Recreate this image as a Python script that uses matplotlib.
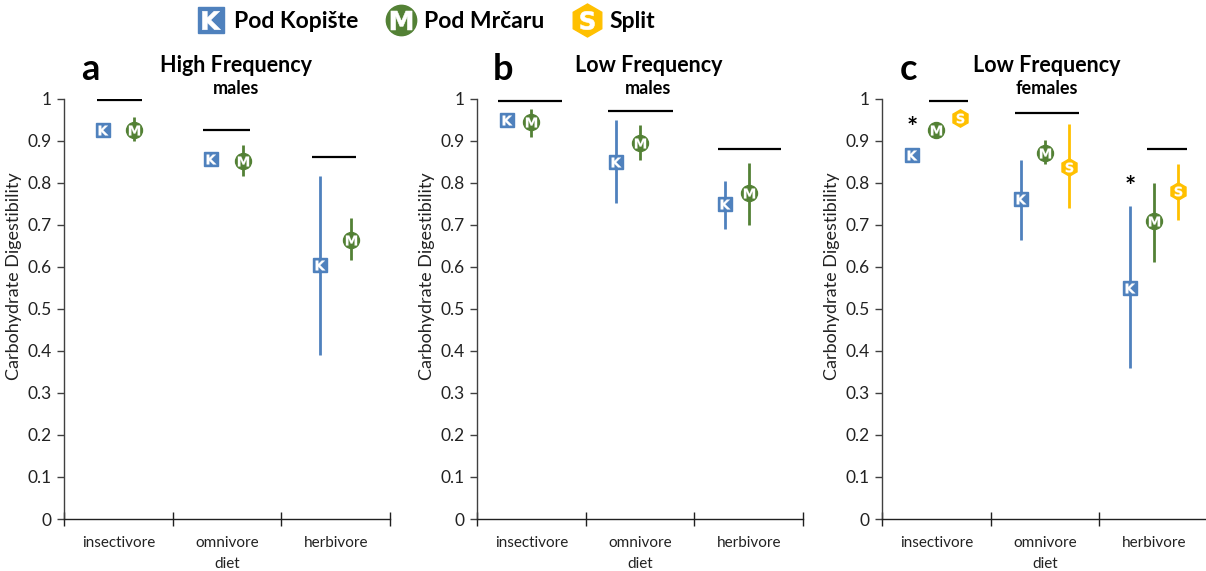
import numpy as np
import matplotlib
matplotlib.use('Agg')
import matplotlib.pyplot as plt
from matplotlib.lines import Line2D
from matplotlib.legend_handler import HandlerTuple

plt.rcParams['font.family'] = ['Lato', 'DejaVu Sans']

# данные
diets = ['insectivore', 'omnivore', 'herbivore']
x_pos = np.arange(3) + 0.5

# a: High Frequency, males
a_k_mean = [0.924, 0.856, 0.603]
a_k_lo = [0.919, 0.851, 0.390]
a_k_hi = [0.929, 0.861, 0.815]
a_m_mean = [0.925, 0.852, 0.664]
a_m_lo = [0.898, 0.816, 0.616]
a_m_hi = [0.956, 0.890, 0.716]
a_line_y = [0.997, 0.924, 0.862]

# b: Low Frequency, males
b_k_mean = [0.948, 0.848, 0.748]
b_k_lo = [0.943, 0.752, 0.690]
b_k_hi = [0.953, 0.950, 0.803]
b_m_mean = [0.944, 0.894, 0.775]
b_m_lo = [0.908, 0.854, 0.700]
b_m_hi = [0.975, 0.936, 0.847]
b_line_y = [0.995, 0.971, 0.881]

# c: Low Frequency, females
c_k_mean = [0.866, 0.761, 0.549]
c_k_lo = [0.861, 0.663, 0.359]
c_k_hi = [0.871, 0.854, 0.745]
c_m_mean = [0.926, 0.871, 0.708]
c_m_lo = [0.915, 0.845, 0.610]
c_m_hi = [0.940, 0.902, 0.800]
c_s_mean = [0.953, 0.838, 0.780]
c_s_lo = [0.948, 0.739, 0.710]
c_s_hi = [0.958, 0.940, 0.845]
c_line_y = [0.993, 0.965, 0.880]
c_star_y = [0.930, None, 0.790]

BLUE = '#4F81BD'
GREEN = '#538135'
GOLD = '#FFC000'

styles = {
    'K': dict(color=BLUE, marker='s', ms=10, letter=r'$\mathbf{K}$', lms=7, mew=0.2),
    'M': dict(color=GREEN, marker='o', ms=11.5, letter=r'$\mathbf{M}$', lms=8, mew=0.1),
    'S': dict(color=GOLD, marker='h', ms=12.5, letter=r'$\mathbf{S}$', lms=7, mew=0.2),
}

fig = plt.figure(figsize=(12.06, 5.71), dpi=100)

lefts = [64 / 1206, 477 / 1206, 882 / 1206]
w = 326 / 1206
bottom = 52 / 571
h = 420.5 / 571


def draw_series(ax, key, xs, mean, lo, hi):
    st = styles[key]
    mean = np.array(mean)
    yerr = [mean - np.array(lo), np.array(hi) - mean]
    ax.errorbar(xs, mean, yerr=yerr, fmt='none', ecolor=st['color'],
                elinewidth=2.0, capsize=0, zorder=2)
    ax.plot(xs, mean, linestyle='none', marker=st['marker'], ms=st['ms'],
            color=st['color'], mec=st['color'], zorder=3)
    ax.plot(xs, mean, linestyle='none', marker=st['letter'], ms=st['lms'],
            color='white', mec='white', mew=st['mew'], zorder=4)


def setup(ax, letter, title, sub, tx):
    ax.set_xlim(0, 3)
    ax.set_ylim(0, 1)
    for s in ['top', 'right']:
        ax.spines[s].set_visible(False)
    ax.spines['left'].set_color('#404040')
    ax.spines['bottom'].set_color('#202020')
    ax.spines['left'].set_linewidth(1.0)
    ax.spines['bottom'].set_linewidth(1.0)
    ax.set_yticks(np.arange(0, 1.01, 0.1))
    ax.set_yticklabels(['0', '0.1', '0.2', '0.3', '0.4', '0.5', '0.6',
                        '0.7', '0.8', '0.9', '1'])
    ax.tick_params(axis='y', direction='out', length=5, width=1,
                   color='#404040', labelsize=12.5, labelcolor='#222222', pad=4)
    ax.set_xticks([0, 1, 2, 3])
    ax.set_xticklabels([])
    ax.tick_params(axis='x', which='major', direction='inout', length=10,
                   width=1, color='#202020')
    ax.set_xticks(x_pos, minor=True)
    ax.set_xticklabels(diets, minor=True)
    ax.tick_params(axis='x', which='minor', length=0, labelsize=11,
                   labelcolor='#222222', pad=12)
    ax.set_xlabel('diet', fontsize=11, color='#222222', labelpad=5)
    ax.set_ylabel('Carbohydrate Digestibility', fontsize=13, color='#222222')
    ax.yaxis.set_label_coords(-0.13, 0.578)
    ax.text(0.08, 1.069, letter, transform=ax.transAxes, fontsize=26,
            fontweight='bold', ha='center', va='center')
    ax.text(tx, 1.079, title, transform=ax.transAxes, fontsize=15.5,
            fontweight='bold', ha='center', va='center')
    ax.text(tx, 1.024, sub, transform=ax.transAxes, fontsize=13,
            fontweight='bold', ha='center', va='center')


def sig_lines(ax, ys, spans):
    for y, (x0, x1) in zip(ys, spans):
        ax.plot([x0, x1], [y, y], color='black', lw=1.6, zorder=1,
                solid_capstyle='butt')


# panel a
ax = fig.add_axes([lefts[0], bottom, w, h])
setup(ax, 'a', 'High Frequency', 'males', 0.529)
draw_series(ax, 'K', x_pos - 0.145, a_k_mean, a_k_lo, a_k_hi)
draw_series(ax, 'M', x_pos + 0.145, a_m_mean, a_m_lo, a_m_hi)
sig_lines(ax, a_line_y, [(0.30, 0.72), (1.28, 1.71), (2.28, 2.69)])

# panel b
ax = fig.add_axes([lefts[1], bottom, w, h])
setup(ax, 'b', 'Low Frequency', 'males', 0.526)
draw_series(ax, 'K', x_pos - 0.22, b_k_mean, b_k_lo, b_k_hi)
draw_series(ax, 'M', x_pos, b_m_mean, b_m_lo, b_m_hi)
sig_lines(ax, b_line_y, [(0.19, 0.78), (1.21, 1.80), (2.22, 2.80)])

# panel c
ax = fig.add_axes([lefts[2], bottom, w, h])
setup(ax, 'c', 'Low Frequency', 'females', 0.506)
draw_series(ax, 'K', x_pos - 0.22, c_k_mean, c_k_lo, c_k_hi)
draw_series(ax, 'M', x_pos, c_m_mean, c_m_lo, c_m_hi)
draw_series(ax, 'S', x_pos + 0.22, c_s_mean, c_s_lo, c_s_hi)
sig_lines(ax, c_line_y, [(0.43, 0.79), (1.22, 1.81), (2.44, 2.81)])
for xi, sy in zip(x_pos - 0.22, c_star_y):
    if sy is not None:
        ax.text(xi, sy, '*', fontsize=19, fontweight='bold',
                ha='center', va='center')

# легенда
handles = []
for key in ['K', 'M', 'S']:
    st = styles[key]
    bg = Line2D([], [], linestyle='none', marker=st['marker'],
                ms=st['ms'] * 1.9, color=st['color'], mec=st['color'])
    fg = Line2D([], [], linestyle='none', marker=st['letter'],
                ms=st['lms'] * 1.9, color='white', mec='white', mew=0.4)
    handles.append((bg, fg))
fig.legend(handles, ['Pod Kopište', 'Pod Mrčaru', 'Split'],
           handler_map={tuple: HandlerTuple(ndivide=1)},
           loc='center', bbox_to_anchor=(0.354, 0.963), ncol=3,
           frameon=False, prop={'weight': 'bold', 'size': 16.5},
           handlelength=1.1, handletextpad=0.45, columnspacing=1.3)

fig.savefig('out.png', dpi=100)
